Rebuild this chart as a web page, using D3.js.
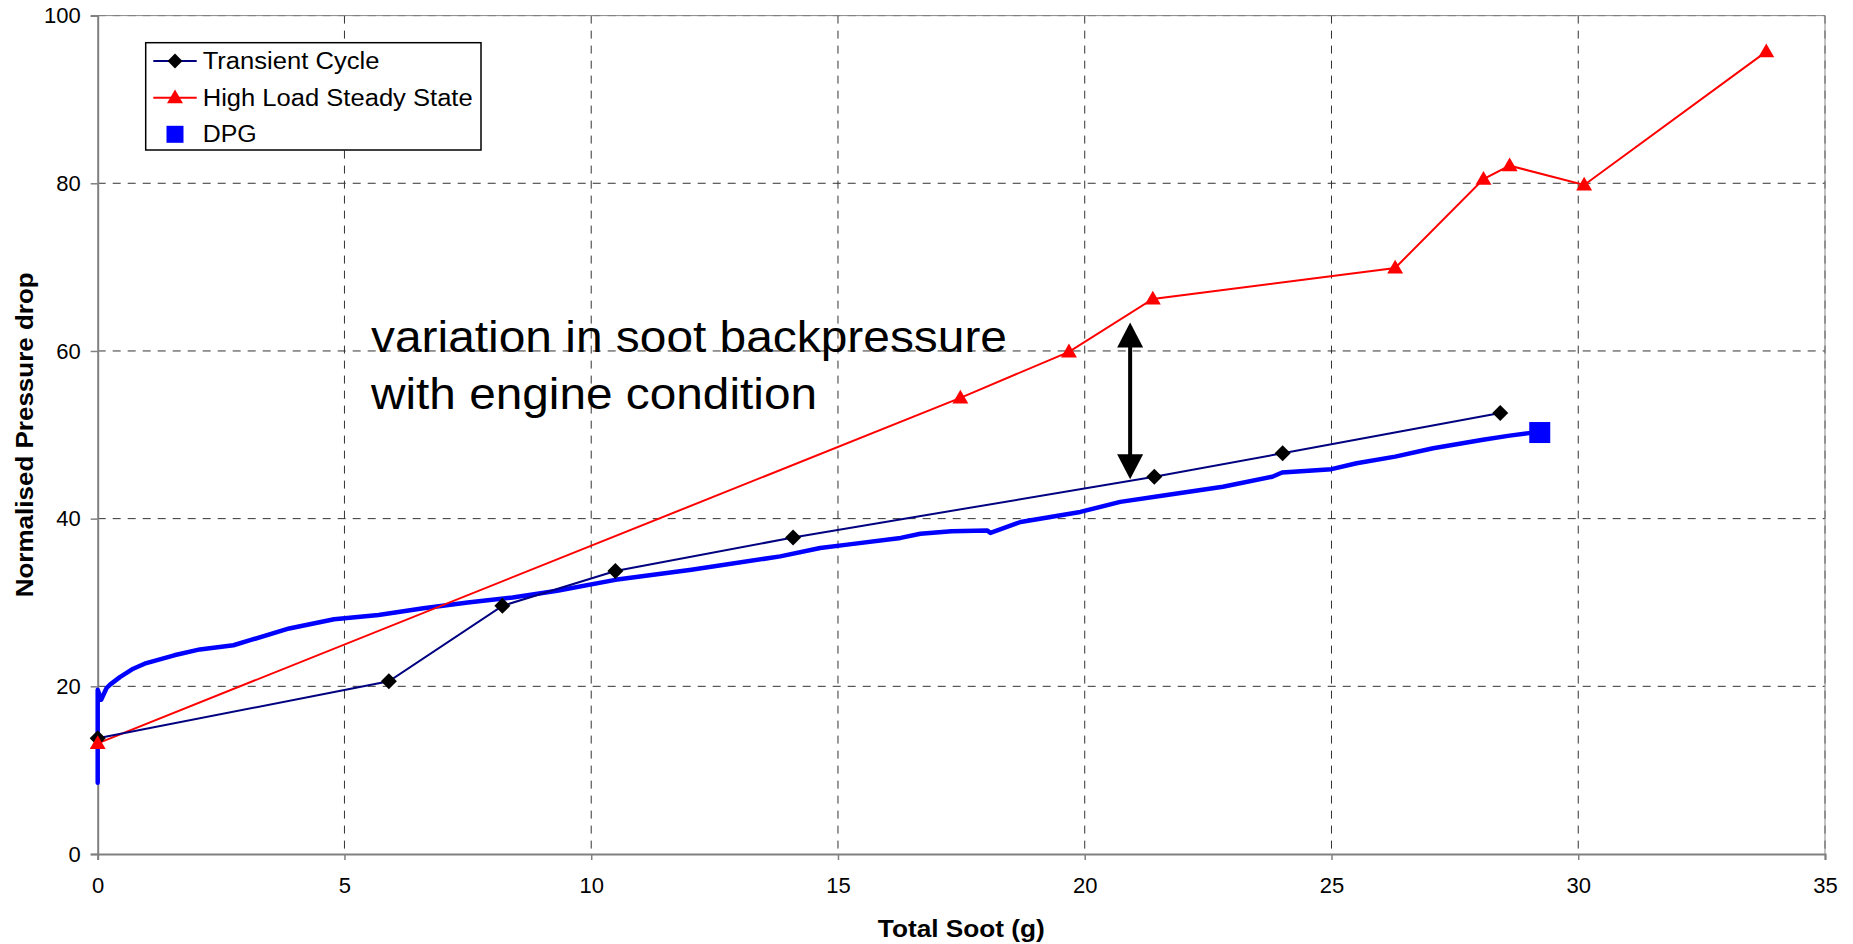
<!DOCTYPE html>
<html>
<head>
<meta charset="utf-8">
<script src="https://cdn.jsdelivr.net/npm/d3@7"></script>
<style>
  body { margin: 0; background: #fff; }
  svg { display: block; font-family: "Liberation Sans", Arial, sans-serif; }
</style>
</head>
<body>
<svg id="chart" width="1853" height="944"></svg>
<script>
// ---- data ----
const xTicks = [0, 5, 10, 15, 20, 25, 30, 35];
const yTicks = [0, 20, 40, 60, 80, 100];

const transientX = [0, 5.90, 8.20, 10.49, 14.09, 21.41, 24.01, 28.42];
const transientY = [13.8, 20.6, 29.6, 33.75, 37.75, 45.0, 47.8, 52.6];

const highLoadX = [0, 17.48, 19.68, 21.38, 26.29, 28.08, 28.61, 30.12, 33.81];
const highLoadY = [13.2, 54.4, 59.9, 66.2, 69.9, 80.5, 82.1, 79.8, 95.7];

const dpgX = [0, 0, 0.07, 0.18, 0.25, 0.45, 0.72, 0.95, 1.55, 2.07, 2.75, 3.09, 3.88, 4.79, 5.69, 6.6, 7.5, 8.41, 9.31, 10.49, 12.03, 13.83, 14.64, 15.19, 16.27, 16.67, 17.3, 18.02, 18.09, 18.7, 19.91, 20.72, 21.63, 22.8, 23.8, 24.0, 25.0, 25.51, 26.29, 27.06, 28.07, 28.61, 29.0, 29.22];
const dpgY = [8.5, 19.6, 18.4, 19.8, 20.2, 21.1, 22.1, 22.7, 23.7, 24.4, 24.9, 25.5, 26.9, 28.0, 28.5, 29.3, 30.0, 30.6, 31.4, 32.7, 33.9, 35.5, 36.5, 36.9, 37.7, 38.2, 38.5, 38.6, 38.3, 39.6, 40.8, 42.0, 42.8, 43.8, 45.0, 45.5, 45.9, 46.6, 47.4, 48.4, 49.4, 49.9, 50.2, 50.27];
const dpgMarker = [29.22, 50.27];

const arrowX = 20.92;
const arrowY = [63.4, 44.7];

const seriesNames = ["Transient Cycle", "High Load Steady State", "DPG"];
const annotationLines = ["variation in soot backpressure", "with engine condition"];
const xTitle = "Total Soot (g)";
const yTitle = "Normalised Pressure drop";

// ---- layout ----
const pLeft = 97.7, pRight = 1825, pTop = 15.6, pBottom = 854;
const svg = d3.select("#chart");
const x = d3.scaleLinear().domain([0, 35]).range([pLeft, pRight]);
const y = d3.scaleLinear().domain([0, 100]).range([pBottom, pTop]);

// gridlines
const grid = svg.append("g");
grid.selectAll("line.h").data(yTicks.filter(d => d > 0)).join("line")
  .attr("x1", pLeft).attr("x2", pRight)
  .attr("y1", d => y(d)).attr("y2", d => y(d))
  .attr("stroke", "#333").attr("stroke-width", 1).attr("stroke-dasharray", "8,7");
grid.selectAll("line.v").data(xTicks.filter(d => d > 0)).join("line")
  .attr("y1", pTop).attr("y2", pBottom)
  .attr("x1", d => x(d)).attr("x2", d => x(d))
  .attr("stroke", "#333").attr("stroke-width", 1).attr("stroke-dasharray", "8,7");
// faint plot border top/right
svg.append("line").attr("x1", pLeft).attr("x2", pRight).attr("y1", y(100)).attr("y2", y(100))
  .attr("stroke", "#888").attr("stroke-width", 1);
svg.append("line").attr("x1", x(35)).attr("x2", x(35)).attr("y1", pTop).attr("y2", pBottom)
  .attr("stroke", "#888").attr("stroke-width", 1);

// axes
const xAxis = d3.axisBottom(x).tickValues(xTicks).tickSize(6).tickPadding(22).tickFormat(d3.format("d"));
const yAxis = d3.axisLeft(y).tickValues(yTicks).tickSize(7).tickPadding(10).tickFormat(d3.format("d"));
const gx = svg.append("g").attr("transform", `translate(0,${pBottom})`).call(xAxis);
const gy = svg.append("g").attr("transform", `translate(${pLeft},0)`).call(yAxis);
[gx, gy].forEach(g => {
  g.select(".domain").attr("stroke", "#808080").attr("stroke-width", 2);
  g.selectAll(".tick line").attr("stroke", "#808080").attr("stroke-width", 1.5);
  g.selectAll(".tick text").attr("fill", "#000").style("font-size", "22px")
    .style("font-family", "'Liberation Sans', Arial, sans-serif");
});
gx.selectAll(".tick text").attr("dy", "0.5em");

// series
const pts = (xs, ys) => xs.map((v, i) => [v, ys[i]]);
const line = d3.line().x(d => x(d[0])).y(d => y(d[1]));

svg.append("path").datum(pts(dpgX, dpgY)).attr("d", line)
  .attr("fill", "none").attr("stroke", "#0000ff").attr("stroke-width", 4.5)
  .attr("stroke-linejoin", "round").attr("stroke-linecap", "round");

svg.append("path").datum(pts(highLoadX, highLoadY)).attr("d", line)
  .attr("fill", "none").attr("stroke", "#ff0000").attr("stroke-width", 2);

svg.append("path").datum(pts(transientX, transientY)).attr("d", line)
  .attr("fill", "none").attr("stroke", "#000080").attr("stroke-width", 2);

const triangle = d3.symbol().type(d3.symbolTriangle).size(110);

svg.append("g").selectAll("path").data(pts(transientX, transientY)).join("path")
  .attr("d", d3.symbol().type(d3.symbolSquare).size(128))
  .attr("transform", d => `translate(${x(d[0])},${y(d[1])}) rotate(45)`)
  .attr("fill", "#000");

svg.append("g").selectAll("path").data(pts(highLoadX, highLoadY)).join("path")
  .attr("d", triangle)
  .attr("transform", d => `translate(${x(d[0])},${y(d[1]) + 1})`)
  .attr("fill", "#ff0000");

svg.append("rect")
  .attr("x", x(dpgMarker[0]) - 10.5).attr("y", y(dpgMarker[1]) - 10.5)
  .attr("width", 21).attr("height", 21).attr("fill", "#0000ff");

// arrow
const ax = x(arrowX), ay1 = y(arrowY[0]), ay2 = y(arrowY[1]);
const headL = 25, headW = 13;
svg.append("line").attr("x1", ax).attr("x2", ax).attr("y1", ay1 + headL - 2).attr("y2", ay2 - headL + 2)
  .attr("stroke", "#000").attr("stroke-width", 4);
svg.append("path").attr("d", `M${ax},${ay1} L${ax - headW},${ay1 + headL} L${ax + headW},${ay1 + headL} Z`).attr("fill", "#000");
svg.append("path").attr("d", `M${ax},${ay2} L${ax - headW},${ay2 - headL} L${ax + headW},${ay2 - headL} Z`).attr("fill", "#000");

// annotation
const annW = [636, 446];
annotationLines.forEach((t, i) => {
  svg.append("text").attr("x", 371).attr("y", 351.7 + i * 57.6)
    .style("font-size", "44px").attr("fill", "#000")
    .attr("textLength", annW[i]).attr("lengthAdjust", "spacingAndGlyphs")
    .text(t);
});

// legend
const lg = svg.append("g");
lg.append("rect").attr("x", 145.7).attr("y", 42.7).attr("width", 335.3).attr("height", 107.3)
  .attr("fill", "#fff").attr("stroke", "#000").attr("stroke-width", 1.5);
const rowY = [61, 97.7, 134.3];
const legW = [176.7, 270, 54];
lg.append("line").attr("x1", 153.3).attr("x2", 196.7).attr("y1", rowY[0]).attr("y2", rowY[0])
  .attr("stroke", "#000080").attr("stroke-width", 2);
lg.append("path").attr("d", d3.symbol().type(d3.symbolSquare).size(110))
  .attr("transform", `translate(175,${rowY[0]}) rotate(45)`).attr("fill", "#000");
lg.append("line").attr("x1", 153.3).attr("x2", 196.7).attr("y1", rowY[1]).attr("y2", rowY[1])
  .attr("stroke", "#ff0000").attr("stroke-width", 2);
lg.append("path").attr("d", triangle).attr("transform", `translate(175,${rowY[1] + 1})`).attr("fill", "#ff0000");
lg.append("rect").attr("x", 166.5).attr("y", rowY[2] - 8.5).attr("width", 17).attr("height", 17).attr("fill", "#0000ff");
seriesNames.forEach((n, i) => {
  lg.append("text").attr("x", 202.7).attr("y", rowY[i] + 8)
    .style("font-size", "23px").attr("fill", "#000")
    .attr("textLength", legW[i]).attr("lengthAdjust", "spacingAndGlyphs")
    .text(n);
});

// axis titles
svg.append("text").attr("x", (pLeft + pRight) / 2).attr("y", 936.7)
  .attr("text-anchor", "middle").style("font-size", "24px").style("font-weight", "bold")
  .attr("textLength", 167).attr("lengthAdjust", "spacingAndGlyphs")
  .text(xTitle);
svg.append("text").attr("transform", `translate(33.3,${(pTop + pBottom) / 2}) rotate(-90)`)
  .attr("text-anchor", "middle").style("font-size", "24px").style("font-weight", "bold")
  .attr("textLength", 325).attr("lengthAdjust", "spacingAndGlyphs")
  .text(yTitle);
</script>
</body>
</html>
